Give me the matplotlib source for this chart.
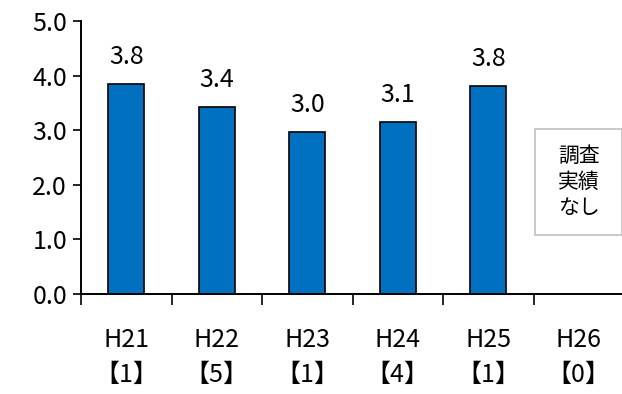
import matplotlib
matplotlib.use("Agg")
import matplotlib.pyplot as plt
from matplotlib.patches import Rectangle
from matplotlib.ticker import MultipleLocator, FixedLocator

plt.rcParams['font.family'] = ['Noto Sans CJK JP', 'DejaVu Sans']

years = ["H21", "H22", "H23", "H24", "H25", "H26"]
counts = ["1", "5", "1", "4", "1", "0"]
values = [3.84, 3.43, 2.97, 3.15, 3.81]
value_labels = ["3.8", "3.4", "3.0", "3.1", "3.8"]
no_data_text = "調査\n実績\nなし"

W, H = 622, 394
fig = plt.figure(figsize=(W / 100, H / 100), dpi=100)
ax = fig.add_axes([81 / W, (H - 294) / H, (624 - 81) / W, (294 - 21) / H])

x = list(range(len(values)))
bars = ax.bar(x, values, width=0.4, color="#0070C0", edgecolor="black", linewidth=1.2)

for xi, v, lab in zip(x, values, value_labels):
    ax.annotate(lab, (xi, v), textcoords="offset points", xytext=(0, 10),
                ha="center", va="bottom", fontsize=18)

ax.set_xlim(-0.5, len(years) - 0.5)
ax.set_ylim(0, 5)
ax.yaxis.set_major_locator(MultipleLocator(1))
ax.set_yticklabels([f"{t:.1f}" for t in ax.get_yticks()])
ax.tick_params(axis="y", labelsize=18, length=6, width=1.2, direction="out", pad=4)

ax.set_xticks(range(len(years)))
ax.set_xticklabels([f"{y}\n【{c}】" for y, c in zip(years, counts)], fontsize=18,
                   linespacing=1.45)
ax.tick_params(axis="x", which="major", length=0, pad=24)
ax.xaxis.set_minor_locator(FixedLocator([i - 0.5 for i in range(len(years) + 1)]))
ax.tick_params(axis="x", which="minor", length=8, width=1.2, direction="out")

for s in ["top", "right"]:
    ax.spines[s].set_visible(False)
for s in ["left", "bottom"]:
    ax.spines[s].set_linewidth(1.4)

# "no survey" box in the H26 slot
ax.add_patch(Rectangle((5 - 0.48, 1.08), 0.96, 1.94, facecolor="white",
                       edgecolor="#BFBFBF", linewidth=1.2, clip_on=False))
ax.text(5, 2.05, no_data_text, ha="center", va="center", fontsize=15, linespacing=1.25)

fig.savefig("out.png", dpi=100)
